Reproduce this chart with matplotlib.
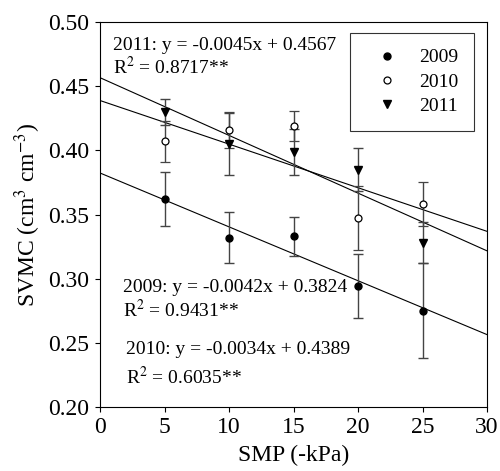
import numpy as np
import matplotlib
matplotlib.use("Agg")
import matplotlib.pyplot as plt

plt.rcParams["font.family"] = ["Liberation Serif", "DejaVu Serif"]
plt.rcParams["mathtext.fontset"] = "stix"

# SMP levels (-kPa)
smp = [5, 10, 15, 20, 25]

# mean SVMC and error bars
svmc_2009 = [0.362, 0.332, 0.333, 0.294, 0.275]
err_2009 = [0.021, 0.020, 0.015, 0.025, 0.037]
svmc_2010 = [0.407, 0.416, 0.419, 0.347, 0.358]
err_2010 = [0.016, 0.014, 0.012, 0.025, 0.017]
svmc_2011 = [0.430, 0.405, 0.399, 0.385, 0.328]
err_2011 = [0.010, 0.024, 0.018, 0.017, 0.016]

# regression lines (slope, intercept)
fit_2009 = (-0.0042, 0.3824)
fit_2010 = (-0.0034, 0.4389)
fit_2011 = (-0.0045, 0.4567)
r2_2009 = "0.9431**"
r2_2010 = "0.6035**"
r2_2011 = "0.8717**"

fig = plt.figure(figsize=(5.0, 4.71), dpi=100)
ax = fig.add_axes([0.2, 0.136, 0.774, 0.817])

xx = np.array([0, 30])
for slope, icpt in (fit_2009, fit_2010, fit_2011):
    ax.plot(xx, slope * xx + icpt, color="black", lw=0.8, zorder=2)

ebkw = dict(ecolor="#444444", elinewidth=1.0, capsize=3.5, capthick=1.0, ls="none", zorder=3)
ax.errorbar(smp, svmc_2009, yerr=err_2009, fmt="o", mfc="black", mec="black", ms=5, label="2009", **ebkw)
ax.errorbar(smp, svmc_2010, yerr=err_2010, fmt="o", mfc="white", mec="black", mew=0.9, ms=5, label="2010", **ebkw)
ax.errorbar(smp, svmc_2011, yerr=err_2011, fmt="v", mfc="black", mec="black", ms=6, label="2011", **ebkw)

ax.set_xlim(0, 30)
ax.set_ylim(0.20, 0.50)
ax.set_xticks([0, 5, 10, 15, 20, 25, 30])
ax.set_yticks([0.20, 0.25, 0.30, 0.35, 0.40, 0.45, 0.50])
ax.set_yticklabels(["0.20", "0.25", "0.30", "0.35", "0.40", "0.45", "0.50"])
ax.tick_params(direction="out", length=3.5, width=0.8, labelsize=17)
ax.tick_params(axis="x", pad=4)
ax.tick_params(axis="y", pad=4)
for s in ax.spines.values():
    s.set_linewidth(0.8)

ax.set_xlabel("SMP (-kPa)", fontsize=17, labelpad=5)
ax.set_ylabel("SVMC (cm$^3$ cm$^{-3}$)", fontsize=17, labelpad=4)

def eq(year, fit):
    return f"{year}: y = {fit[0]:.4f}x + {fit[1]:.4f}"

fs = 14
ax.text(1.0, 0.482, eq(2011, fit_2011), fontsize=fs, va="center")
ax.text(1.0, 0.465, "R$^2$ = " + r2_2011, fontsize=fs, va="center")
ax.text(1.8, 0.2934, eq(2009, fit_2009), fontsize=fs, va="center")
ax.text(1.8, 0.2755, "R$^2$ = " + r2_2009, fontsize=fs, va="center")
ax.text(2.0, 0.2444, eq(2010, fit_2010), fontsize=fs, va="center")
ax.text(2.0, 0.2233, "R$^2$ = " + r2_2010, fontsize=fs, va="center")

handles, labels = ax.get_legend_handles_labels()
handles = [h[0] for h in handles]
leg = ax.legend(handles, labels, loc="upper right", bbox_to_anchor=(0.966, 0.971),
                borderaxespad=0, fancybox=False, fontsize=14, frameon=True,
                edgecolor="black", handletextpad=0.55, borderpad=0.8,
                labelspacing=0.35, handlelength=2.2)
leg.get_frame().set_linewidth(0.8)

fig.savefig("out.png", dpi=100)
